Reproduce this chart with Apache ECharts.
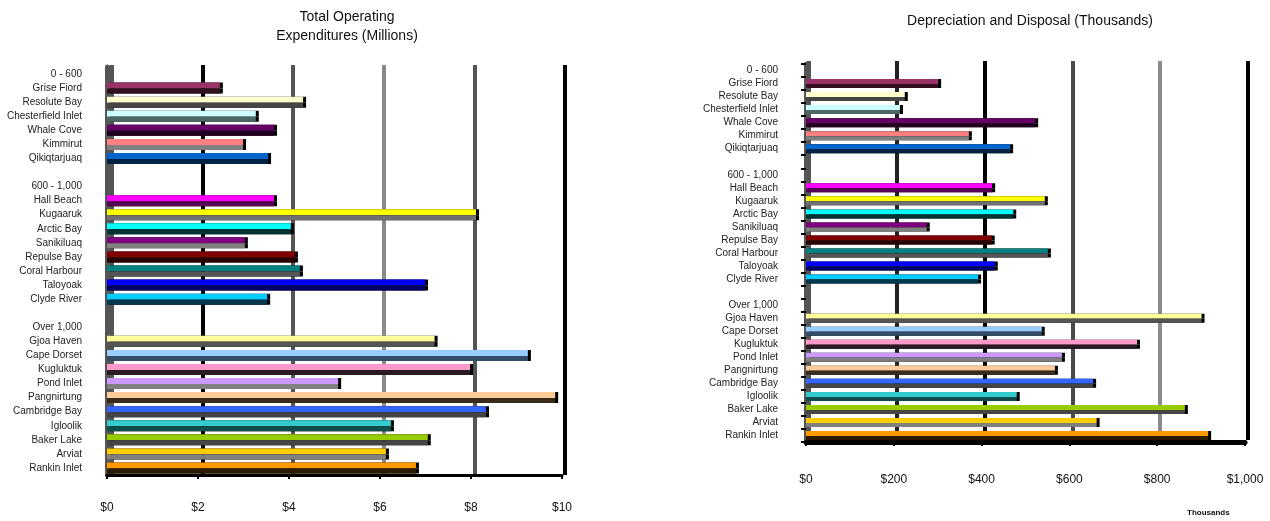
<!DOCTYPE html>
<html>
<head>
<meta charset="utf-8">
<script src="https://cdn.jsdelivr.net/npm/echarts@6/dist/echarts.min.js"></script>
<style>
html,body{margin:0;padding:0;background:#fff;}
#c{width:1270px;height:521px;}
</style>
</head>
<body>
<div id="c"></div>
<script>
// ---------------- DATA ----------------
const categories = [
  '0 - 600','Grise Fiord','Resolute Bay','Chesterfield Inlet','Whale Cove','Kimmirut','Qikiqtarjuaq',
  '',
  '600 - 1,000','Hall Beach','Kugaaruk','Arctic Bay','Sanikiluaq','Repulse Bay','Coral Harbour','Taloyoak','Clyde River',
  ' ',
  'Over 1,000','Gjoa Haven','Cape Dorset','Kugluktuk','Pond Inlet','Pangnirtung','Cambridge Bay','Igloolik','Baker Lake','Arviat','Rankin Inlet'
];
// Total Operating Expenditures (Millions)
const opexMillions = [
  null, 2.48, 4.31, 3.27, 3.67, 2.99, 3.54,
  null,
  null, 3.67, 8.11, 4.04, 3.03, 4.13, 4.24, 6.99, 3.52,
  null,
  null, 7.20, 9.25, 7.98, 5.08, 9.85, 8.33, 6.24, 7.05, 6.13, 6.79
];
// Depreciation and Disposal (Thousands)
const deprThousands = [
  null, 301, 225, 214, 522, 371, 465,
  null,
  null, 424, 544, 472, 275, 423, 551, 430, 392,
  null,
  null, 901, 537, 754, 583, 567, 654, 480, 863, 662, 916
];
const leftTicks = ['$0','$2','$4','$6','$8','$10'];
const rightTicks = ['$0','$200','$400','$600','$800','$1,000'];

// ---------------- STYLE ----------------
const faceColors = [
  null,'#993366','#FFFFCC','#CCFFFF','#660066','#FF8080','#0066CC',
  null,
  null,'#FF00FF','#FFFF00','#00FFFF','#800080','#800000','#008080','#0000FF','#00CCFF',
  null,
  null,'#FFFF99','#99CCFF','#FF99CC','#CC99FF','#FFCC99','#3366FF','#33CCCC','#99CC00','#FFCC00','#FF9900'
];
const sideColors = [
  null,'#33101f','#454545','#4d6666','#220022','#808080','#002244',
  null,
  null,'#550055','#707070','#003333','#808080','#2a0000','#555555','#000066','#00394d',
  null,
  null,'#555555','#334d66','#2a1a22','#808080','#3a2a1a','#454545','#0d4d4d','#454545','#808080','#2a1a00'
];

function mk(vals, colors){
  return vals.map((v,i)=> v==null ? null : {value:v, itemStyle:{color:colors[i]}});
}

const font = 'Liberation Sans, Arial, sans-serif';

const chart = echarts.init(document.getElementById('c'), null, {renderer:'canvas'});

const L = {left:107, top:67, width:455, height:408};
const R = {left:806, top:64, width:439, height:378};

const option = {
  animation:false,
  backgroundColor:'#fff',
  title:[
    {text:'Total Operating\nExpenditures (Millions)', left:342, top:3, textAlign:'center',
     textStyle:{fontFamily:font, fontSize:14, fontWeight:'normal', color:'#111', lineHeight:19}},
    {text:'Depreciation and Disposal (Thousands)', left:1025, top:9, textAlign:'center',
     textStyle:{fontFamily:font, fontSize:14, fontWeight:'normal', color:'#111'}}
  ],
  graphic:[
    {type:'text', left:1187, top:509, style:{text:'Thousands', font:'bold 8px '+font, fill:'#111'}}
  ],
  grid:[
    {left:L.left, top:L.top, width:L.width, height:L.height},
    {left:L.left+5, top:L.top-2, width:L.width-2, height:L.height+2},
    {left:R.left, top:R.top, width:R.width, height:R.height},
    {left:R.left+3, top:R.top-3, width:R.width, height:R.height+1}
  ],
  xAxis:[
    {gridIndex:0, type:'value', min:0, max:10, interval:2,
     axisLine:{show:true, lineStyle:{color:'#000', width:3}},
     axisTick:{show:true, length:4, lineStyle:{color:'#000', width:2}},
     axisLabel:{margin:27, fontFamily:font, fontSize:12, color:'#111',
       formatter:(v)=>leftTicks[Math.round(v/2)]},
     splitLine:{show:false}},
    {gridIndex:1, type:'value', min:0, max:10, interval:2,
     axisLine:{show:false}, axisTick:{show:false}, axisLabel:{show:false},
     splitLine:{show:true, lineStyle:{width:4, color:['#555','#000','#555','#8a8a8a','#555','#000']}}},
    {gridIndex:2, type:'value', min:0, max:1000, interval:200,
     axisLine:{show:true, lineStyle:{color:'#000', width:5}},
     axisTick:{show:true, length:4, lineStyle:{color:'#000', width:2}},
     axisLabel:{margin:32, fontFamily:font, fontSize:12, color:'#111',
       formatter:(v)=>rightTicks[Math.round(v/200)]},
     splitLine:{show:false}},
    {gridIndex:3, type:'value', min:0, max:1000, interval:200,
     axisLine:{show:false}, axisTick:{show:false}, axisLabel:{show:false},
     splitLine:{show:true, lineStyle:{width:4, color:['#555','#222','#000','#4a4a4a','#8a8a8a','#000']}}}
  ],
  yAxis:[
    {gridIndex:0, type:'category', data:categories, inverse:true,
     axisLine:{show:true, lineStyle:{color:'#555', width:5}},
     axisTick:{show:false},
     axisLabel:{margin:25, fontFamily:font, fontSize:10, color:'#222', interval:0}},
    {gridIndex:1, type:'value', show:false, min:0, max:1, splitLine:{show:false}},
    {gridIndex:2, type:'category', data:categories, inverse:true,
     axisLine:{show:true, lineStyle:{color:'#555', width:5}},
     axisTick:{show:true, length:5, lineStyle:{color:'#000', width:2}},
     axisLabel:{margin:28, fontFamily:font, fontSize:10, color:'#222', interval:0}},
    {gridIndex:3, type:'value', show:false, min:0, max:1, splitLine:{show:false}}
  ],
  series:[
    {name:'opex-face', type:'bar', xAxisIndex:0, yAxisIndex:0, barWidth:6, barGap:'0%',
     data:mk(opexMillions, faceColors),
     itemStyle:{shadowColor:'#000', shadowOffsetX:3, shadowBlur:0}},
    {name:'opex-side', type:'bar', xAxisIndex:0, yAxisIndex:0, barWidth:5, barGap:'0%',
     data:mk(opexMillions, sideColors),
     itemStyle:{shadowColor:'#000', shadowOffsetX:3, shadowBlur:0}},
    {name:'depr-face', type:'bar', xAxisIndex:2, yAxisIndex:2, barWidth:5, barGap:'0%',
     data:mk(deprThousands, faceColors),
     itemStyle:{shadowColor:'#000', shadowOffsetX:3, shadowBlur:0}},
    {name:'depr-side', type:'bar', xAxisIndex:2, yAxisIndex:2, barWidth:4, barGap:'0%',
     data:mk(deprThousands, sideColors),
     itemStyle:{shadowColor:'#000', shadowOffsetX:3, shadowBlur:0}}
  ]
};
chart.setOption(option);
</script>
</body>
</html>
